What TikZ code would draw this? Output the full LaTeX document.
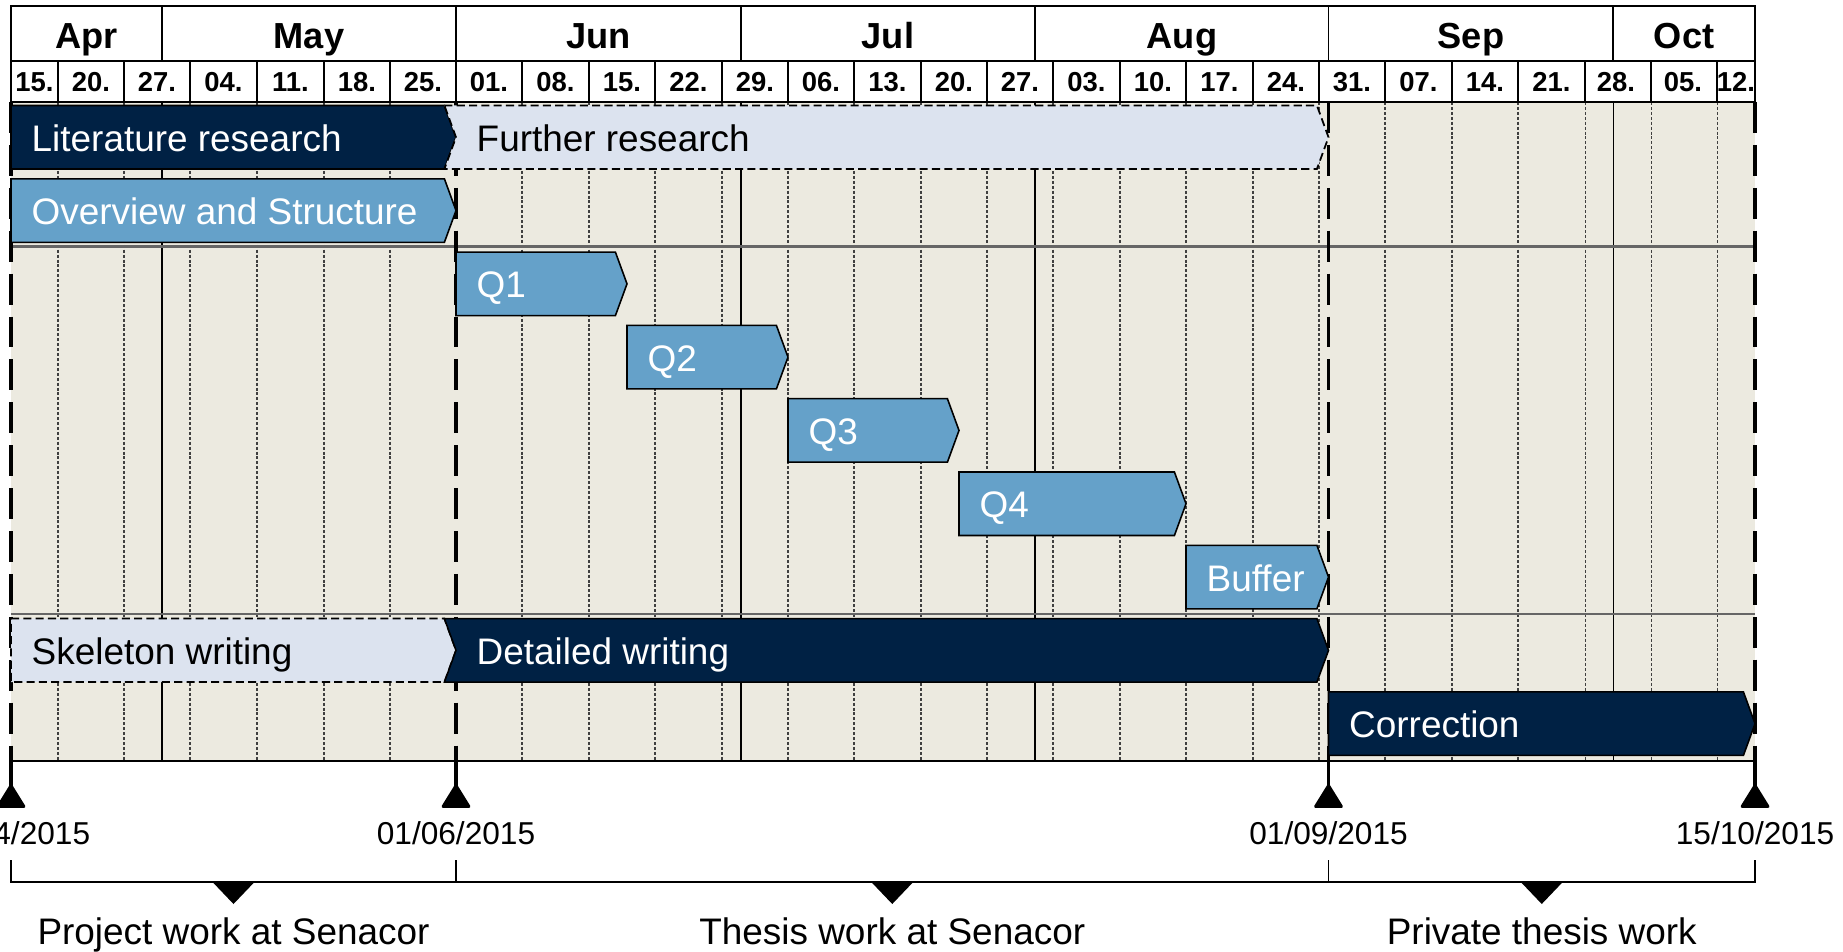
\documentclass[tikz,border=0pt]{standalone}
\usepackage{fontspec}
\setmainfont{Liberation Sans}
\usepackage{tikz}

\definecolor{navy}{RGB}{0,33,68}
\definecolor{midblue}{RGB}{101,161,201}
\definecolor{paleblue}{RGB}{220,227,239}
\definecolor{chartbg}{RGB}{236,234,224}

\begin{document}
\begin{tikzpicture}[x=0.01cm, y=0.01cm]
    \tikzstyle{every node}+=[inner sep=0pt]
    \tikzstyle{navybar}=[draw=black, line width=0.45pt, fill=navy]
    \tikzstyle{bluebar}=[draw=black, line width=0.45pt, fill=midblue]
    \tikzstyle{palebar}=[draw=black, line width=0.5pt, fill=paleblue, dash pattern=on 2.3pt off 1.2pt]
    \tikzstyle{weekline}=[black!75, line width=0.3pt, dash pattern=on 0.85pt off 0.55pt]
    \tikzstyle{monthline}=[black, line width=0.3pt]
    \tikzstyle{rowline}=[black!60, line width=0.6pt]
    \tikzstyle{milestone}=[black, line width=1pt, dash pattern=on 8.8pt off 3.4pt]
    \tikzstyle{headerline}=[black, line width=0.55pt]
    \tikzstyle{monthlabel}=[anchor=base, font=\fontsize{10.3}{12}\selectfont\bfseries]
    \tikzstyle{weeklabel}=[anchor=base, font=\fontsize{7.8}{9}\selectfont\bfseries]
    \tikzstyle{tasklabel}=[anchor=base west, font=\fontsize{10.5}{12}\selectfont]
    \tikzstyle{datelabel}=[anchor=base, font=\fontsize{9}{11}\selectfont]
    \tikzstyle{phaselabel}=[anchor=base, font=\fontsize{10.5}{12}\selectfont]
    \useasboundingbox (0,0) rectangle (1843,-952);
    \clip (0,0) rectangle (1843,-952);
    \fill [chartbg] (11,-102) rectangle (1755,-761);
    \draw [weekline] (58,-102) -- (58,-761) (124,-102) -- (124,-761) (190,-102) -- (190,-761)
        (257,-102) -- (257,-761) (324,-102) -- (324,-761) (390,-102) -- (390,-761)
        (522,-102) -- (522,-761) (589,-102) -- (589,-761) (655,-102) -- (655,-761)
        (722,-102) -- (722,-761) (788,-102) -- (788,-761) (854,-102) -- (854,-761)
        (921,-102) -- (921,-761) (987,-102) -- (987,-761) (1053,-102) -- (1053,-761)
        (1120,-102) -- (1120,-761) (1186,-102) -- (1186,-761) (1253,-102) -- (1253,-761)
        (1319,-102) -- (1319,-761) (1385,-102) -- (1385,-761) (1452,-102) -- (1452,-761)
        (1518,-102) -- (1518,-761) (1585,-102) -- (1585,-761) (1651,-102) -- (1651,-761)
        (1717,-102) -- (1717,-761);
    \draw [monthline] (162,-102) -- (162,-761) (741,-102) -- (741,-761)
        (1035,-102) -- (1035,-761) (1613,-102) -- (1613,-761);
    \draw [rowline] (11,-246.5) -- (1755,-246.5);
    \draw [rowline] (11,-614) -- (1755,-614);
    \draw [milestone] (11,-102) -- (11,-761);
    \draw [milestone] (456,-102) -- (456,-761);
    \draw [milestone] (1328.5,-102) -- (1328.5,-761);
    \draw [milestone] (1755,-102) -- (1755,-761);
    \draw [black, line width=0.6pt] (11,-761) -- (1755,-761);
    \draw [navybar] (11,-105.5) -- (444.4,-105.5) -- (456,-137.25) -- (444.4,-169) -- (11,-169) -- cycle;
    \draw (31,-151.25) node [tasklabel, white] (lit) {Literature research};
    \draw [palebar] (444.4,-105.5) -- (1316.9,-105.5) -- (1328.5,-137.25) -- (1316.9,-169) -- (444.4,-169) -- (456,-137.25) -- cycle;
    \draw (476,-151.25) node [tasklabel] (further) {Further research};
    \draw [bluebar] (11,-178.8) -- (444.4,-178.8) -- (456,-210.55) -- (444.4,-242.3) -- (11,-242.3) -- cycle;
    \draw (31,-224.55) node [tasklabel, white] (overview) {Overview and Structure};
    \draw [bluebar] (456,-252.1) -- (615.4,-252.1) -- (627,-283.85) -- (615.4,-315.6) -- (456,-315.6) -- cycle;
    \draw (476,-297.85) node [tasklabel, white] (q1) {Q1};
    \draw [bluebar] (627,-325.4) -- (776.4,-325.4) -- (788,-357.15) -- (776.4,-388.9) -- (627,-388.9) -- cycle;
    \draw (647,-371.15) node [tasklabel, white] (q2) {Q2};
    \draw [bluebar] (788,-398.7) -- (947.4,-398.7) -- (959,-430.45) -- (947.4,-462.2) -- (788,-462.2) -- cycle;
    \draw (808,-444.45) node [tasklabel, white] (q3) {Q3};
    \draw [bluebar] (959,-472) -- (1174.4,-472) -- (1186,-503.75) -- (1174.4,-535.5) -- (959,-535.5) -- cycle;
    \draw (979,-517.75) node [tasklabel, white] (q4) {Q4};
    \draw [bluebar] (1186,-545.3) -- (1316.9,-545.3) -- (1328.5,-577.05) -- (1316.9,-608.8) -- (1186,-608.8) -- cycle;
    \draw (1206,-591.05) node [tasklabel, white] (buffer) {Buffer};
    \draw [palebar] (11,-618.6) -- (444.4,-618.6) -- (456,-650.35) -- (444.4,-682.1) -- (11,-682.1) -- cycle;
    \draw (31,-664.35) node [tasklabel] (skeleton) {Skeleton writing};
    \draw [navybar] (444.4,-618.6) -- (1316.9,-618.6) -- (1328.5,-650.35) -- (1316.9,-682.1) -- (444.4,-682.1) -- (456,-650.35) -- cycle;
    \draw (476,-664.35) node [tasklabel, white] (detailed) {Detailed writing};
    \draw [navybar] (1328.5,-691.9) -- (1743.4,-691.9) -- (1755,-723.65) -- (1743.4,-755.4) -- (1328.5,-755.4) -- cycle;
    \draw (1348.5,-737.65) node [tasklabel, white] (correction) {Correction};
    \draw [headerline, fill=white] (11,-6) rectangle (1755,-102);
    \draw [headerline] (11,-60.7) -- (1755,-60.7);
    \draw [headerline] (162,-6) -- (162,-60.7) (456,-6) -- (456,-60.7) (741,-6) -- (741,-60.7)
        (1035,-6) -- (1035,-60.7) (1328.5,-6) -- (1328.5,-60.7) (1613,-6) -- (1613,-60.7);
    \draw [headerline] (58,-60.7) -- (58,-102) (124,-60.7) -- (124,-102) (190,-60.7) -- (190,-102)
        (257,-60.7) -- (257,-102) (324,-60.7) -- (324,-102) (390,-60.7) -- (390,-102)
        (456,-60.7) -- (456,-102) (522,-60.7) -- (522,-102) (589,-60.7) -- (589,-102)
        (655,-60.7) -- (655,-102) (722,-60.7) -- (722,-102) (788,-60.7) -- (788,-102)
        (854,-60.7) -- (854,-102) (921,-60.7) -- (921,-102) (987,-60.7) -- (987,-102)
        (1053,-60.7) -- (1053,-102) (1120,-60.7) -- (1120,-102) (1186,-60.7) -- (1186,-102)
        (1253,-60.7) -- (1253,-102) (1319,-60.7) -- (1319,-102) (1385,-60.7) -- (1385,-102)
        (1452,-60.7) -- (1452,-102) (1518,-60.7) -- (1518,-102) (1585,-60.7) -- (1585,-102)
        (1651,-60.7) -- (1651,-102) (1717,-60.7) -- (1717,-102);
    \draw (86.5,-48.5) node [monthlabel] (apr) {Apr};
    \draw (309,-48.5) node [monthlabel] (may) {May};
    \draw (598.5,-48.5) node [monthlabel] (jun) {Jun};
    \draw (888,-48.5) node [monthlabel] (jul) {Jul};
    \draw (1182,-48.5) node [monthlabel] (aug) {Aug};
    \draw (1471,-48.5) node [monthlabel] (sep) {Sep};
    \draw (1684,-48.5) node [monthlabel] (oct) {Oct};
    \draw (34.5,-91.7) node [weeklabel] (w01) {15.};
    \draw (91,-91.7) node [weeklabel] (w02) {20.};
    \draw (157,-91.7) node [weeklabel] (w03) {27.};
    \draw (223.5,-91.7) node [weeklabel] (w04) {04.};
    \draw (290.5,-91.7) node [weeklabel] (w05) {11.};
    \draw (357,-91.7) node [weeklabel] (w06) {18.};
    \draw (423,-91.7) node [weeklabel] (w07) {25.};
    \draw (489,-91.7) node [weeklabel] (w08) {01.};
    \draw (555.5,-91.7) node [weeklabel] (w09) {08.};
    \draw (622,-91.7) node [weeklabel] (w10) {15.};
    \draw (688.5,-91.7) node [weeklabel] (w11) {22.};
    \draw (755,-91.7) node [weeklabel] (w12) {29.};
    \draw (821,-91.7) node [weeklabel] (w13) {06.};
    \draw (887.5,-91.7) node [weeklabel] (w14) {13.};
    \draw (954,-91.7) node [weeklabel] (w15) {20.};
    \draw (1020,-91.7) node [weeklabel] (w16) {27.};
    \draw (1086.5,-91.7) node [weeklabel] (w17) {03.};
    \draw (1153,-91.7) node [weeklabel] (w18) {10.};
    \draw (1219.5,-91.7) node [weeklabel] (w19) {17.};
    \draw (1286,-91.7) node [weeklabel] (w20) {24.};
    \draw (1352,-91.7) node [weeklabel] (w21) {31.};
    \draw (1418.5,-91.7) node [weeklabel] (w22) {07.};
    \draw (1485,-91.7) node [weeklabel] (w23) {14.};
    \draw (1551.5,-91.7) node [weeklabel] (w24) {21.};
    \draw (1616,-91.7) node [weeklabel] (w25) {28.};
    \draw (1683,-91.7) node [weeklabel] (w26) {05.};
    \draw (1736,-91.7) node [weeklabel] (w27) {12.};
    \draw [black, line width=1pt] (11,-761) -- (11,-786) (456,-761) -- (456,-786)
        (1328.5,-761) -- (1328.5,-786) (1755,-761) -- (1755,-786);
    \filldraw [black, line width=0.8pt, line join=round] (-2,-806.5) -- (24,-806.5) -- (11,-785.5) -- cycle;
    \filldraw [black, line width=0.8pt, line join=round] (443,-806.5) -- (469,-806.5) -- (456,-785.5) -- cycle;
    \filldraw [black, line width=0.8pt, line join=round] (1315.5,-806.5) -- (1341.5,-806.5) -- (1328.5,-785.5) -- cycle;
    \filldraw [black, line width=0.8pt, line join=round] (1742,-806.5) -- (1768,-806.5) -- (1755,-785.5) -- cycle;
    \draw (11,-844) node [datelabel] (start) {15/04/2015};
    \draw (456,-844) node [datelabel] (jun1) {01/06/2015};
    \draw (1328.5,-844) node [datelabel] (sep1) {01/09/2015};
    \draw (1755,-844) node [datelabel] (finish) {15/10/2015};
    \draw [black, line width=0.55pt] (11,-860) -- (11,-882) -- (1755,-882) -- (1755,-860);
    \draw [black, line width=0.55pt] (456,-860) -- (456,-882) (1328.5,-860) -- (1328.5,-882);
    \fill [black] (212.5,-882) -- (254.5,-882) -- (233.5,-904) -- cycle;
    \fill [black] (871.25,-882) -- (913.25,-882) -- (892.25,-904) -- cycle;
    \fill [black] (1520.75,-882) -- (1562.75,-882) -- (1541.75,-904) -- cycle;
    \draw (233.5,-944) node [phaselabel] (project) {Project work at Senacor};
    \draw (892.25,-944) node [phaselabel] (thesis) {Thesis work at Senacor};
    \draw (1541.75,-944) node [phaselabel] (private) {Private thesis work};
\end{tikzpicture}
\end{document}
